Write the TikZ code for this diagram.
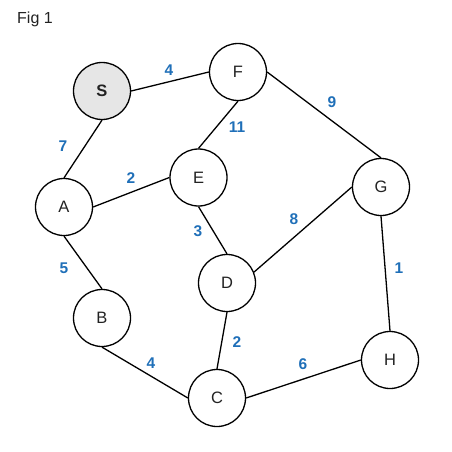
\documentclass[tikz,border=0pt]{standalone}
\usepackage{fontspec}
\setmainfont{Liberation Sans}
\definecolor{lblblue}{HTML}{1F6FB8}
\definecolor{sgray}{HTML}{E6E6E6}
\definecolor{txtgray}{HTML}{222222}
\begin{document}
\begin{tikzpicture}[x=1pt,y=-1pt,
  vtx/.style={circle,draw,line width=1.3pt,minimum size=57pt,inner sep=0pt,text=txtgray,font=\fontsize{16.5}{16.5}\selectfont},
  wt/.style={text=lblblue,inner sep=0pt,font=\bfseries\fontsize{15.5}{15.5}\selectfont},
  edge/.style={line width=1.3pt}]
\useasboundingbox (0,0) rectangle (452,452);
\node[anchor=west,inner sep=0pt,font=\fontsize{16}{16}\selectfont,text=txtgray] (fig) at (17,19) {Fig 1};
\node[vtx,fill=sgray,font=\bfseries\fontsize{16.5}{16.5}\selectfont] (S) at (102,91) {S};
\node[vtx] (F) at (238,72) {F};
\node[vtx] (E) at (198.5,177.5) {E};
\node[vtx] (A) at (64,207) {A};
\node[vtx] (G) at (381,187) {G};
\node[vtx] (D) at (227,283) {D};
\node[vtx] (B) at (102,318) {B};
\node[vtx] (C) at (217,398) {C};
\node[vtx] (H) at (390,360) {H};
\draw[edge] (S.east) -- (F.west);
\draw[edge] (S.south) -- (A.north);
\draw[edge] (A.east) -- (E.west);
\draw[edge] (F.south) -- (E.north);
\draw[edge] (E.south) -- (D.north);
\draw[edge] (D.22) -- (G.west);
\draw[edge] (F.east) -- (G.north);
\draw[edge] (G.south) -- (H.north);
\draw[edge] (A.south) -- (B.north);
\draw[edge] (B.south) -- (C.west);
\draw[edge] (D.south) -- (C.north);
\draw[edge] (C.east) -- (H.west);
\node[wt] (wSF) at (169,70) {4};
\node[wt] (wFE) at (237,127) {11};
\node[wt] (wSA) at (63,146) {7};
\node[wt] (wAE) at (131,178) {2};
\node[wt] (wED) at (198,231) {3};
\node[wt] (wFG) at (332,102) {9};
\node[wt] (wDG) at (294,219) {8};
\node[wt] (wGH) at (399,268) {1};
\node[wt] (wCH) at (303,364) {6};
\node[wt] (wAB) at (64,268) {5};
\node[wt] (wBC) at (151,363) {4};
\node[wt] (wDC) at (237,342) {2};
\end{tikzpicture}
\end{document}
